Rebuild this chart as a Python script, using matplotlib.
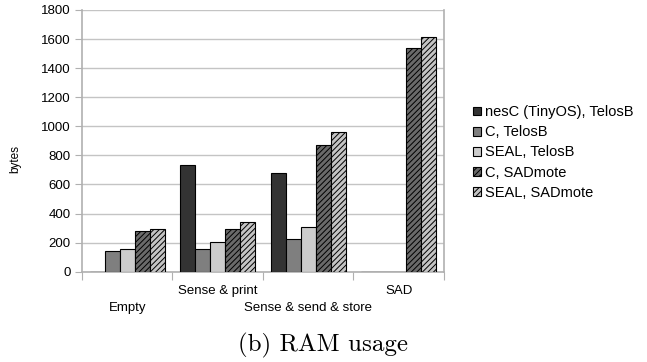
import numpy as np
import matplotlib
matplotlib.use("Agg")
import matplotlib.pyplot as plt

# ==========================================
# DATA (RAM usage in bytes)
# ==========================================
categories = ["Empty", "Sense & print", "Sense & send & store", "SAD"]
series = ["nesC (TinyOS), TelosB", "C, TelosB", "SEAL, TelosB", "C, SADmote", "SEAL, SADmote"]
nesc_telosb = [0, 735, 677, 0]
c_telosb = [143, 156, 222, 0]
seal_telosb = [153, 202, 306, 0]
c_sadmote = [282, 296, 874, 1542]
seal_sadmote = [291, 339, 960, 1615]

values = [nesc_telosb, c_telosb, seal_telosb, c_sadmote, seal_sadmote]
colors = ["#333333", "#7f7f7f", "#cccccc", "#6a6a6a", "#c4c4c4"]
hatches = [None, None, None, "//////", "//////"]

plt.rcParams["font.family"] = ["Liberation Sans", "DejaVu Sans"]
plt.rcParams["hatch.linewidth"] = 0.7
plt.rcParams["hatch.color"] = "black"

fig = plt.figure(figsize=(6.47, 3.62), dpi=100)
ax = fig.add_axes([0.1267, 0.2494, 0.5595, 0.723])

x = np.arange(len(categories)) + 0.5
bw = 0.166
handles = []
for i, (vals, col, h) in enumerate(zip(values, colors, hatches)):
    pos = x + (i - 2) * bw
    b = ax.bar(pos, vals, width=bw, color=col, edgecolor="black", linewidth=0.8,
               hatch=h, label=series[i], zorder=3)
    handles.append(b)

ax.set_xlim(0, len(categories))
ax.set_ylim(0, 1800)
ax.set_yticks(np.arange(0, 1801, 200))
ax.yaxis.grid(True, color="#c4c4c4", linewidth=1.0, zorder=0)
ax.tick_params(axis="y", length=5, color="#b0b0b0", labelsize=9.5, pad=3)

# category boundaries as ticks, names staggered on two rows
ax.set_xticks(np.arange(len(categories) + 1))
ax.set_xticklabels([])
ax.tick_params(axis="x", length=6, color="#b0b0b0", direction="out")
for k, c in enumerate(categories):
    ypos = -0.075 if k % 2 else -0.138
    ax.text(x[k], ypos, c, transform=ax.get_xaxis_transform(),
            ha="center", va="center", fontsize=9.5)

for s in ["left", "bottom", "right"]:
    ax.spines[s].set_color("#b0b0b0")
    ax.spines[s].set_linewidth(1.2)
ax.spines["top"].set_visible(False)

fig.text(0.024, 0.56, "bytes", rotation=90, ha="center", va="center", fontsize=8.5)

fig.legend(handles=handles, loc="center left", bbox_to_anchor=(0.722, 0.579),
           frameon=False, fontsize=10.5, handlelength=0.55, handleheight=0.55,
           handletextpad=0.3, labelspacing=0.42, borderaxespad=0)

fig.text(0.5, 0.047, "(b) RAM usage", ha="center", va="center",
         family="cmr10", fontsize=18)

fig.savefig("out.png", dpi=100)
